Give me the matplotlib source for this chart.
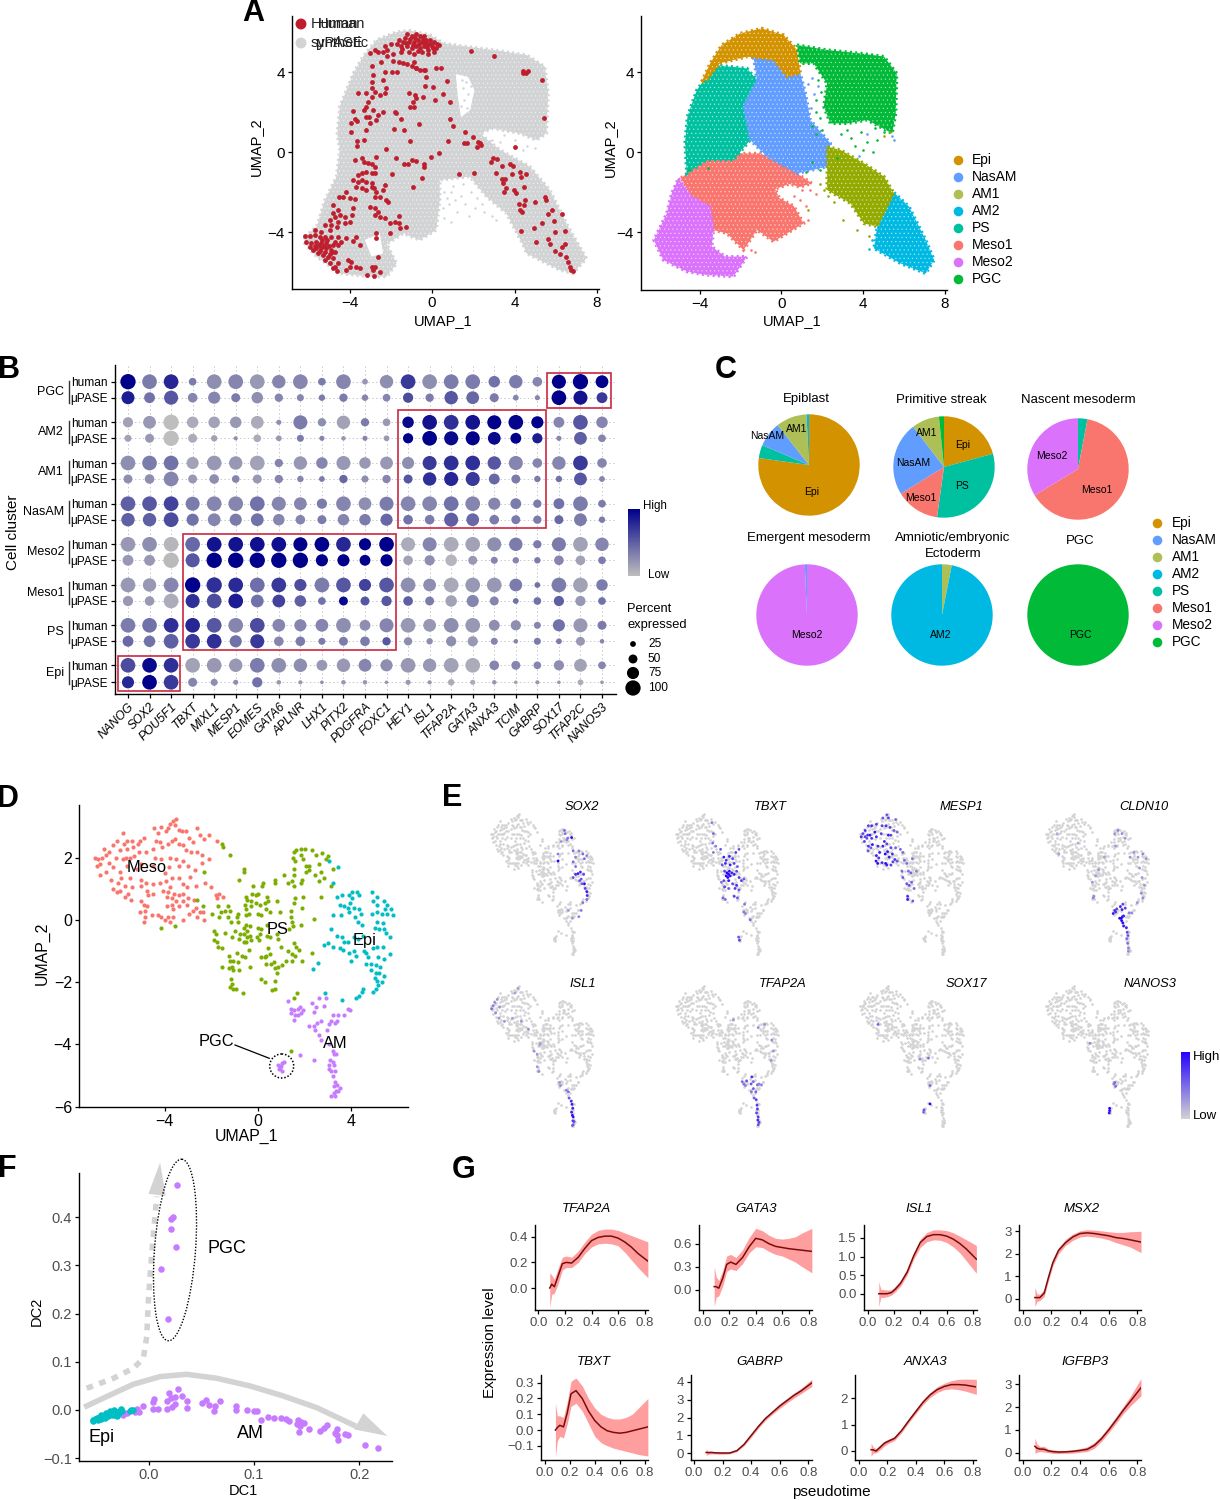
import matplotlib
matplotlib.use("Agg")
import matplotlib.pyplot as plt
import numpy as np
from matplotlib.colors import LinearSegmentedColormap
from matplotlib.patches import Ellipse, Circle, Rectangle

plt.rcParams["font.family"] = ["Liberation Sans", "DejaVu Sans"]
plt.rcParams["hatch.linewidth"] = 0.35

W, H = 1220, 1500

COL = {"Epi": "#D39200", "NasAM": "#619CFF", "AM1": "#93AA00", "AM2": "#00B9E3",
       "PS": "#00C19F", "Meso1": "#F8766D", "Meso2": "#DB72FB", "PGC": "#00BA38"}
PIE_COL = dict(COL, AM1="#AEBF55")
cluster_order = ["Epi", "NasAM", "AM1", "AM2", "PS", "Meso1", "Meso2", "PGC"]

# --- A: outlines of the dense UMAP clouds, plus the cells that can be read singly
all_cells_outline = [(-6.18, -4.23), (-5.6, -3.73), (-5.2, -2.4), (-4.64, -1.23), (-4.48, 0.1), (-4.6, 0.93),
                     (-4.48, 2.27), (-3.83, 3.93), (-3.35, 4.77), (-2.7, 5.6), (-1.73, 6.0), (-1.08, 6.07),
                     (-0.11, 5.85), (0.57, 5.43), (1.67, 5.27), (2.96, 5.1), (4.58, 4.85), (5.47, 4.27),
                     (5.63, 2.93), (5.55, 0.93), (5.06, 0.6), (4.26, 0.93), (2.96, 1.18), (2.31, 0.93),
                     (3.3, 0.1), (4.74, -0.73), (5.71, -1.9), (6.6, -3.73), (7.49, -5.32), (6.84, -6.07),
                     (6.2, -5.9), (4.58, -5.07), (4.42, -4.65), (3.61, -3.07), (2.64, -2.23), (1.83, -1.23),
                     (0.37, -1.4), (0.37, -2.4), (0.2, -3.9), (-0.6, -4.4), (-1.41, -4.07), (-2.2, -4.6),
                     (-1.73, -5.57), (-2.2, -6.23), (-3.03, -6.23), (-4.48, -6.07), (-5.6, -5.23), (-6.18, -4.57)]
all_cells_holes = [[(1.15, 3.9), (1.75, 3.75), (2.05, 3.1), (1.85, 2.1), (1.4, 1.75), (1.25, 2.77)],
                   [(-3.27, -4.4), (-2.54, -4.07), (-2.38, -5.07), (-2.94, -5.23)]]
all_cells_sparse = [(0.6, -2.0), (1.0, -1.7), (1.4, -2.2), (0.8, -2.6), (1.9, -2.0), (2.4, -2.6), (1.2, -3.0),
                    (0.6, -3.3), (2.9, -3.2), (3.1, -3.4), (1.5, -1.6), (2.1, -2.8), (0.9, -3.5), (3.5, 0.85),
                    (4.0, 0.6), (4.6, 0.3), (5.0, 0.2), (3.3, 0.5), (2.9, 0.6), (4.4, 0.1), (1.5, 3.2), (1.4, 2.3),
                    (1.65, 3.5), (1.75, 2.9), (1.55, 2.6), (1.9, 3.3), (1.7, 2.2), (1.45, 3.6), (0.7, -2.3), (1.6, -2.6),
                    (2.2, -2.3), (0.55, -2.8), (1.1, -2.4), (0.9, -2.0), (1.8, -3.2), (2.5, -3.0), (2.75, -1.9)]

human_cells = [(-1.7, 5.4), (-1.6, 5.6), (-1.5, 5.3), (-1.4, 5.5), (-1.3, 5.7), (-1.2, 5.3), (-1.2, 5.9), (-1.1, 5.5),
               (-1.0, 5.8), (-1.0, 5.2), (-0.9, 5.5), (-0.8, 5.9), (-0.8, 5.3), (-0.7, 5.6), (-0.6, 5.8), (-0.6, 5.2),
               (-0.5, 5.5), (-0.4, 5.8), (-0.4, 5.3), (-0.3, 5.6), (-0.2, 5.4), (-0.2, 5.1), (-0.1, 5.6), (0.0, 5.3),
               (0.1, 5.5), (0.2, 5.2), (0.35, 5.35), (-1.5, 5.0), (-1.1, 5.0), (-0.9, 4.9), (-0.5, 5.0), (-0.2, 4.9),
               (0.1, 5.0), (-1.25, 5.45), (-1.05, 5.65), (-0.85, 5.7), (-0.65, 5.4), (-0.45, 5.65), (-0.25, 5.25),
               (-0.05, 5.4), (-1.45, 5.15), (-0.95, 5.35), (-0.7, 5.05), (-0.35, 5.45), (0.05, 5.2), (0.25, 5.4),
               (-2.3, 5.3), (-2.2, 5.1), (-2.4, 5.0), (-2.2, 4.8), (-2.0, 5.4), (-1.9, 4.9), (-1.6, 4.5),
               (-1.4, 4.45), (-2.5, 4.5), (-1.9, 4.55), (-1.2, 4.4), (-1.0, 4.3), (-0.9, 4.5), (-0.8, 4.2), (-0.6, 4.1),
               (-0.4, 4.1), (-2.62, 5.02), (-3.03, 4.93), (-2.94, 4.3), (-2.78, 5.1), (-2.86, 3.85), (-2.94, 3.52),
               (-2.9, 3.18), (-2.27, 4.02), (-1.97, 4.02), (-2.38, 3.6), (-1.68, 3.98), (-0.76, 4.18), (-0.36, 4.1),
               (0.21, 4.18), (0.42, 4.18), (-0.31, 3.73), (-0.36, 3.3), (0.02, 3.27), (0.7, 3.57), (0.53, 2.9),
               (0.13, 2.6), (0.89, 2.48), (-0.44, 2.73), (-0.84, 2.85), (-0.76, 2.68), (-0.92, 2.52), (-1.08, 2.27),
               (-0.89, 2.23), (-1.12, 2.93), (-2.22, 3.18), (-2.27, 2.93), (-2.54, 2.85), (-2.78, 3.02), (-2.94, 2.77),
               (-3.22, 2.97), (-3.59, 2.93), (-3.11, 2.52), (-3.19, 2.27), (-3.32, 2.1), (-3.83, 2.05), (-2.86, 2.1),
               (-2.38, 2.02), (-2.62, 1.85), (-2.7, 1.6), (-3.19, 1.77), (-3.06, 1.77), (-3.75, 1.65), (-3.64, 1.57),
               (-3.96, 1.47), (-3.92, 0.98), (-3.22, 1.1), (-3.03, 1.47), (-1.81, 2.02), (-1.73, 1.93), (-1.49, 1.63),
               (-1.38, 1.1), (-1.86, 1.13), (-0.65, 1.4), (0.86, 1.65), (1.02, 1.32), (1.59, 1.02), (1.99, 0.77),
               (1.54, 0.43), (1.67, 0.47), (0.79, 0.53), (2.23, 0.52), (2.31, 0.43), (2.18, 0.27), (2.39, 0.35),
               (-1.05, 0.57), (-3.64, 0.57), (-3.32, 0.6), (-3.64, 0.3), (-2.22, 0.13), (1.91, 5.05), (2.99, 4.8),
               (4.42, 4.05), (4.55, 3.97), (4.66, 4.05), (4.42, 3.93), (5.32, 3.6), (5.42, 1.68), (4.03, 0.27),
               (-0.03, -0.27), (0.34, -0.07), (-1.73, -0.28), (-1.0, -0.4), (-0.76, -0.45), (-1.17, -0.6), (-1.38, -0.6),
               (-0.4, -0.6), (-0.39, -0.73), (-1.97, -1.12), (-0.49, -1.32), (-0.92, -1.73), (1.31, -1.12), (2.04, -1.07),
               (-3.75, -0.4), (-3.38, -0.32), (-3.32, -0.48), (-3.11, -0.53), (-2.94, -0.6), (-2.78, -0.73), (-2.73, -0.27),
               (-3.59, -1.15), (-3.38, -1.07), (-3.22, -0.98), (-2.94, -1.03), (-2.78, -1.03), (-3.83, -1.4), (-3.59, -1.48),
               (-3.38, -1.4), (-3.19, -1.48), (-2.94, -1.57), (-3.67, -1.73), (-3.38, -1.82), (-3.19, -1.9), (-2.94, -1.73),
               (-2.82, -1.82), (-2.7, -1.98), (-2.54, -2.23), (-2.78, -2.23), (-2.38, -1.9), (-2.22, -2.4), (-2.3, -1.65),
               (-2.14, -2.48), (-4.16, -1.98), (-4.32, -2.23), (-4.53, -2.23), (-4.0, -2.32), (-3.75, -2.35), (-4.56, -2.9),
               (-4.81, -2.65), (-3.83, -2.82), (-3.87, -3.15), (-3.03, -2.73), (-2.78, -2.82), (-2.62, -2.98), (-2.78, -3.15),
               (-2.54, -3.23), (-2.3, -3.32), (-2.06, -3.53), (-1.81, -3.48), (-1.6, -3.2), (-1.62, -3.57), (-1.57, -3.82),
               (-1.25, -3.77), (-2.02, -4.07), (-2.7, -4.07), (-2.7, -4.32), (-2.62, -5.23), (-4.81, -3.07), (-4.94, -3.4),
               (-4.72, -3.23), (-4.48, -3.15), (-4.24, -3.23), (-4.0, -3.48), (-4.24, -3.57), (-4.56, -3.48), (-4.89, -3.65),
               (-5.21, -3.65), (-4.64, -3.73), (-5.7, -3.9), (-5.37, -3.98), (-4.97, -3.9), (-6.18, -4.2), (-5.94, -4.2),
               (-5.7, -4.15), (-5.45, -4.23), (-5.21, -4.27), (-4.89, -4.23), (-4.56, -4.27), (-4.16, -4.32), (-4.4, -4.48),
               (-6.1, -4.48), (-5.86, -4.57), (-5.62, -4.48), (-5.37, -4.53), (-5.13, -4.57), (-4.81, -4.65), (-4.56, -4.65),
               (-5.62, -4.82), (-5.37, -4.82), (-5.13, -4.82), (-4.89, -4.9), (-4.72, -4.98), (-5.54, -5.07), (-5.29, -5.15),
               (-5.05, -5.23), (-4.81, -5.32), (-5.21, -5.4), (-4.97, -5.57), (-4.72, -5.73), (-4.61, -5.93), (-4.81, -5.82),
               (-4.56, -5.57), (-5.94, -4.73), (-5.78, -4.9), (-5.5, -4.65), (-5.25, -4.7), (-5.0, -4.72), (-5.45, -4.95),
               (-5.2, -5.0), (-4.95, -5.08), (-5.7, -4.68), (-5.1, -4.4), (-5.35, -4.38), (-4.7, -4.5), (-4.85, -5.0),
               (-3.67, -4.23), (-3.83, -4.43), (-3.49, -4.65), (-4.08, -5.4),
               (-3.92, -5.48), (-4.19, -5.9), (-4.0, -5.73), (-3.67, -5.73), (-3.48, -5.82), (-3.16, -6.15), (-2.94, -5.73),
               (-2.78, -5.73), (-2.82, -6.2), (-2.54, -5.98), (-2.86, -5.9), (2.85, -0.52), (2.96, -0.28), (3.16, -0.37),
               (3.37, -0.68), (3.12, -1.07), (3.8, -0.6), (3.93, -0.68), (4.26, -1.02), (4.58, -1.1), (3.37, -1.35),
               (3.53, -1.35), (3.45, -1.53), (3.9, -1.1), (4.3, -1.27), (4.45, -1.73), (3.61, -1.82), (3.48, -1.98),
               (3.96, -1.9), (4.05, -2.07), (4.21, -2.6), (4.5, -2.4), (4.45, -2.65), (4.26, -2.9), (4.34, -2.98),
               (4.98, -2.48), (5.47, -2.23), (5.55, -2.4), (5.84, -2.9), (5.63, -3.1), (6.28, -3.1), (5.91, -3.45),
               (5.31, -3.53), (4.3, -3.93), (4.94, -3.82), (5.95, -4.02), (6.44, -3.93), (5.63, -4.35), (5.06, -4.48),
               (5.74, -4.62), (6.44, -4.6), (6.28, -4.77), (5.95, -4.93), (6.2, -5.1), (6.52, -5.27), (6.6, -5.48),
               (6.68, -5.73), (6.73, -5.9), (6.84, -5.93)]

cloud_outlines = {
    "Epi": [(-3.89, 3.52), (-3.48, 4.43), (-2.91, 5.35), (-2.01, 5.93), (-0.95, 6.18), (0.11, 5.85), (0.77, 5.1),
            (0.93, 3.93), (0.28, 3.77), (-0.38, 4.6), (-1.68, 4.77), (-3.0, 4.43), (-3.64, 3.6)],
    "NasAM": [(-1.36, 4.77), (-0.38, 4.6), (0.28, 3.77), (0.93, 3.93), (1.18, 2.93), (1.42, 1.6), (2.4, 0.43),
              (2.24, -0.73), (0.77, -1.07), (-0.7, -0.23), (-1.52, 0.6), (-1.85, 2.27), (-1.19, 3.6)],
    "PS": [(-3.24, 4.35), (-1.68, 4.18), (-1.19, 3.6), (-1.85, 2.27), (-1.52, 0.6), (-2.34, -0.4), (-3.64, -0.4),
           (-4.62, -1.07), (-4.71, 0.43), (-4.59, 1.77), (-4.13, 3.1)],
    "Meso1": [(-4.9, -1.3), (-3.64, -0.32), (-2.34, -0.07), (-1.03, -0.07), (0.28, -0.73), (1.5, -1.57), (0.9, -1.75),
              (0.4, -1.6), (-0.3, -1.85), (-0.1, -2.3), (0.6, -2.7), (1.09, -3.57), (-0.38, -4.48), (-1.19, -3.9),
              (-1.85, -4.9), (-2.66, -4.07), (-3.32, -3.9), (-3.48, -2.73), (-4.38, -2.23)],
    "Meso2": [(-5.03, -1.32), (-4.38, -2.23), (-3.48, -2.73), (-3.32, -3.9), (-3.4, -4.73), (-2.75, -5.23),
              (-1.68, -5.23), (-2.34, -6.23), (-3.64, -6.15), (-4.62, -5.98), (-5.77, -5.4), (-6.23, -4.4),
              (-5.6, -3.07), (-5.36, -2.07)],
    "PGC": [(0.77, 5.35), (2.24, 5.1), (3.87, 4.93), (5.02, 4.77), (5.64, 3.93), (5.59, 1.93), (5.42, 0.93),
            (4.2, 1.6), (3.22, 1.43), (2.4, 1.43), (2.08, 2.27), (2.24, 3.43), (1.58, 4.43), (0.93, 4.43)],
    "AM1": [(2.24, 0.27), (2.89, 0.1), (4.04, -0.57), (5.02, -1.23), (5.51, -2.07), (4.69, -3.73), (4.04, -3.57),
            (3.38, -2.57), (2.24, -1.9), (2.24, -0.73)],
    "AM2": [(5.51, -2.03), (6.24, -2.73), (7.06, -4.4), (7.47, -5.4), (7.06, -6.07), (5.83, -5.57), (4.53, -4.82),
            (4.69, -3.73)],
}
cloud_strays = {
    "PGC": [(2.9, 0.9), (3.4, 0.7), (4.2, 0.5), (4.7, 0.6), (4.0, 0.1), (4.5, 0.0), (3.6, 0.3), (1.7, 0.9), (1.5, 1.3),
            (2.7, -0.3), (1.5, -0.5), (1.2, -1.0), (1.9, -0.9), (1.7, 2.6), (1.8, 3.6), (-3.6, -0.8), (-4.5, -0.9),
            (1.9, 1.7), (2.0, 1.1), (1.7, 2.0), (1.95, 3.0), (4.6, 1.2), (5.0, 1.0), (3.9, 1.0), (3.2, 1.1)],
    "NasAM": [(1.5, 3.7), (1.6, 2.9), (5.4, 0.8), (5.5, 0.6), (4.2, 0.9), (3.8, -0.2), (1.8, 3.3), (1.3, 3.4), (1.45, 2.2)],
    "AM1": [(1.9, -1.6), (2.3, -2.2), (2.6, -2.5), (1.3, -2.9), (3.0, -3.4), (2.1, -1.9), (5.3, 1.0), (5.0, 0.8), (3.7, -3.9), (4.3, -4.2)],
    "Meso1": [(1.4, -1.9), (1.7, -2.1), (1.3, -3.4), (1.2, -2.7), (0.6, -2.2), (1.0, -1.9), (-1.5, -4.9), (-1.3, -5.0), (0.9, -2.4)],
    "AM2": [(4.45, -4.4), (4.3, -4.85)],
}

# --- B: dot plot. Rows run from PGC human (top) to Epi uPASE (bottom)
genes = ["NANOG", "SOX2", "POU5F1", "TBXT", "MIXL1", "MESP1", "EOMES", "GATA6", "APLNR", "LHX1", "PITX2", "PDGFRA",
         "FOXC1", "HEY1", "ISL1", "TFAP2A", "GATA3", "ANXA3", "TCIM", "GABRP", "SOX17", "TFAP2C", "NANOS3"]
dot_clusters = ["PGC", "AM2", "AM1", "NasAM", "Meso2", "Meso1", "PS", "Epi"]
pct_expressed = [
    [100, 95, 95, 40, 95, 95, 95, 85, 95, 40, 95, 25, 85, 95, 95, 95, 95, 70, 85, 55, 90, 100, 80],
    [82, 65, 90, 55, 75, 50, 70, 45, 35, 30, 45, 30, 40, 60, 45, 85, 80, 50, 25, 20, 95, 90, 65],
    [60, 80, 100, 70, 70, 70, 80, 20, 90, 45, 85, 45, 40, 70, 95, 95, 95, 90, 95, 75, 65, 95, 70],
    [35, 50, 100, 50, 30, 12, 40, 25, 35, 20, 15, 20, 25, 60, 95, 90, 90, 80, 65, 60, 20, 80, 40],
    [95, 95, 95, 75, 95, 85, 95, 45, 85, 70, 90, 70, 80, 75, 90, 95, 95, 85, 90, 55, 85, 95, 55],
    [50, 55, 95, 50, 55, 40, 50, 45, 30, 25, 45, 35, 45, 50, 85, 90, 90, 65, 50, 30, 30, 80, 25],
    [95, 95, 95, 90, 95, 95, 95, 90, 80, 60, 95, 80, 90, 95, 95, 95, 95, 75, 65, 45, 65, 95, 40],
    [85, 85, 95, 75, 80, 75, 80, 70, 55, 50, 70, 70, 75, 55, 55, 90, 80, 55, 50, 45, 50, 80, 30],
    [95, 95, 95, 95, 95, 95, 95, 95, 90, 95, 95, 75, 95, 90, 90, 95, 95, 90, 85, 45, 90, 95, 85],
    [65, 65, 100, 90, 100, 100, 100, 100, 100, 75, 75, 65, 75, 55, 60, 70, 50, 35, 30, 30, 55, 55, 40],
    [95, 85, 95, 100, 100, 95, 95, 95, 75, 95, 95, 75, 95, 95, 80, 95, 95, 95, 80, 25, 95, 95, 70],
    [60, 55, 95, 90, 95, 95, 80, 80, 70, 40, 50, 50, 60, 55, 50, 70, 75, 50, 25, 40, 60, 60, 40],
    [95, 95, 95, 95, 95, 95, 95, 80, 75, 80, 95, 65, 90, 95, 80, 95, 95, 65, 60, 35, 75, 90, 50],
    [65, 70, 95, 95, 95, 75, 90, 55, 55, 35, 50, 55, 45, 45, 30, 60, 60, 35, 15, 35, 25, 50, 15],
    [95, 95, 95, 95, 95, 85, 95, 95, 85, 65, 85, 80, 75, 95, 85, 95, 95, 55, 50, 40, 60, 80, 40],
    [75, 95, 95, 50, 35, 20, 60, 15, 12, 8, 15, 15, 8, 20, 12, 30, 20, 15, 8, 12, 8, 25, 8],
]
avg_expression = [
    [1.0, .35, .8, .35, .25, .3, .2, .3, .3, .35, .3, .2, .25, .7, .25, .35, .35, .4, .35, .3, 1.0, 1.0, 1.0],
    [.85, .4, .55, .3, .3, .35, .25, .3, .3, .35, .35, .3, .3, .6, .35, .55, .45, .35, .3, .3, 1.0, .9, .7],
    [.15, .2, 0, .1, .15, .2, .1, .25, .35, .25, .15, .35, .2, .95, .9, .75, .9, 1.0, .98, 1.0, .3, .55, .3],
    [.15, .2, 0, .1, .15, .25, .1, .2, .35, .3, .2, .3, .2, 1.0, 1.0, .95, 1.0, .95, 1.0, .85, .3, .5, .3],
    [.25, .35, .4, .15, .2, .2, .15, .3, .2, .3, .2, .2, .2, .25, .7, .75, .75, .55, .3, .3, .3, .7, .3],
    [.25, .25, .3, .2, .25, .3, .2, .3, .3, .35, .45, .25, .3, .55, .75, .8, .7, .45, .35, .35, .4, .55, .3],
    [.5, .55, .65, .35, .3, .3, .4, .3, .3, .35, .3, .25, .35, .3, .3, .4, .3, .3, .35, .35, .4, .35, .35],
    [.5, .5, .6, .4, .3, .35, .4, .3, .3, .35, .3, .35, .45, .4, .35, .5, .45, .35, .35, .35, .45, .35, .35],
    [.2, .25, .05, .45, .9, .9, .92, .92, 1.0, 1.0, .8, 1.0, 1.0, .1, .3, .1, .15, .25, .35, .35, .35, .15, .3],
    [.2, .2, .02, .55, 1.0, 1.0, 1.0, 1.0, 1.0, 1.0, 1.0, 1.0, 1.0, .15, .25, .05, .2, .3, .3, .35, .3, .15, .35],
    [.2, .2, .3, 1.0, .75, .78, .42, .7, .6, .35, .55, .65, .55, .25, .25, .12, .2, .2, .35, .4, .35, .15, .35],
    [.2, .2, .1, .75, .6, .85, .4, .65, .5, .4, .95, .55, .55, .5, .35, .15, .3, .3, .4, .4, .5, .2, .4],
    [.35, .4, .75, .8, .55, .3, .6, .3, .3, .3, .25, .25, .3, .2, .2, .25, .2, .25, .25, .3, .4, .2, .35],
    [.45, .4, .5, .7, .75, .4, .7, .3, .35, .35, .35, .35, .55, .25, .25, .25, .2, .3, .3, .35, .35, .2, .3],
    [.6, .95, .75, .15, .2, .2, .35, .25, .25, .2, .2, .3, .25, .2, .2, .15, .1, .3, .3, .3, .25, .15, .3],
    [.8, 1.0, .7, .3, .25, .25, .4, .2, .2, .25, .2, .2, .2, .2, .2, .1, .1, .2, .15, .2, .2, .1, .2],
]
row_names = ["human", "μPASE"] * 8
row_pos = [381.7, 397.7, 422.3, 438.3, 463, 479, 503.7, 519.7, 544.3, 560.3, 585, 601, 625.3, 641.3, 665.3, 682.3]
cluster_label_pos = [391.7, 432, 472, 512, 552, 593, 632, 673]
legend_pcts = [25, 50, 75, 100]

# --- C: pie shares, clockwise from 12 o'clock
pies = [
    ("Epiblast", ["Epi", "PS", "NasAM", "AM1", "AM2"], [77.2, 4.2, 8.0, 9.8, 0.8]),
    ("Primitive streak", ["Epi", "PS", "Meso1", "NasAM", "AM1", "PGC"], [20.8, 31.4, 14.0, 23.4, 8.8, 1.6]),
    ("Nascent mesoderm", ["PS", "Meso1", "Meso2"], [3.0, 63.3, 33.7]),
    ("Emergent mesoderm", ["Meso2", "NasAM"], [99.3, 0.7]),
    ("Amniotic/embryonic\nEctoderm", ["AM1", "AM2"], [3.1, 96.9]),
    ("PGC", ["PGC"], [100.0]),
]

# --- D: human cells on UMAP
meso_cells = [(-3.65, 3.2), (-3.5, 3.25), (-3.75, 3.1), (-3.55, 3.05), (-3.85, 2.95), (-4.15, 3.0), (-4.45, 2.95), (-4.3, 2.8),
              (-3.95, 2.85), (-3.4, 2.9), (-3.25, 2.85), (-3.1, 2.85), (-2.6, 2.95), (-2.5, 2.75), (-2.1, 2.75), (-2.3, 2.6),
              (-5.8, 2.8), (-4.9, 2.65), (-5.05, 2.55), (-5.15, 2.45), (-5.4, 2.55), (-5.6, 2.55), (-5.75, 2.45), (-6.05, 2.55),
              (-6.2, 2.4), (-6.4, 2.2), (-6.6, 2.3), (-6.5, 2.1), (-4.35, 2.55), (-4.2, 2.5), (-4.1, 2.35), (-3.85, 2.45),
              (-3.7, 2.55), (-3.55, 2.6), (-3.4, 2.45), (-3.2, 2.4), (-3.1, 2.25), (-2.95, 2.65), (-2.8, 2.5), (-2.85, 2.2),
              (-2.6, 2.2), (-2.4, 2.1), (-1.75, 2.55), (-5.9, 2.25), (-5.6, 2.3), (-5.35, 2.35), (-5.1, 2.2), (-4.8, 2.2),
              (-4.5, 2.3), (-7.0, 2.0), (-6.85, 1.95), (-6.7, 2.0), (-6.9, 1.75), (-6.75, 1.8), (-6.4, 1.85), (-6.1, 2.0),
              (-5.8, 1.95), (-5.65, 2.0), (-5.5, 2.0), (-5.3, 2.05), (-4.4, 2.0), (-4.15, 1.95), (-3.75, 2.0), (-3.5, 1.95),
              (-3.2, 1.9), (-3.0, 1.75), (-2.7, 1.6), (-2.4, 1.85), (-2.1, 1.95), (-2.9, 1.4), (-3.4, 1.75), (-3.8, 1.7),
              (-4.0, 1.5), (-4.5, 1.75), (-5.0, 1.8), (-5.2, 1.65), (-5.6, 1.75), (-5.9, 1.55), (-6.2, 1.7), (-6.5, 1.55),
              (-6.75, 1.45), (-6.3, 1.3), (-6.0, 1.2), (-5.85, 1.35), (-5.5, 1.35), (-5.7, 1.1), (-5.4, 1.05), (-5.0, 1.3),
              (-4.8, 1.2), (-4.5, 1.15), (-4.2, 1.2), (-3.95, 1.25), (-3.7, 1.35), (-3.4, 1.35), (-3.2, 1.15), (-3.05, 1.05),
              (-2.65, 1.1), (-2.25, 1.2), (-2.0, 1.05), (-5.0, 1.1), (-3.75, 1.05), (-4.05, 0.95), (-3.85, 0.9), (-6.2, 1.0),
              (-6.05, 0.9), (-5.9, 0.95), (-5.55, 0.85), (-5.7, 0.75), (-5.45, 0.65), (-5.0, 0.6), (-4.9, 0.5), (-4.75, 0.45),
              (-4.75, 0.95), (-4.5, 0.85), (-4.7, 0.8), (-3.9, 0.75), (-3.7, 0.7), (-3.6, 0.85), (-3.4, 0.8), (-3.2, 0.85),
              (-3.0, 0.7), (-2.75, 0.65), (-3.5, 0.6), (-3.2, 0.6), (-3.9, 0.45), (-3.7, 0.5), (-3.65, 0.35), (-3.4, 0.45),
              (-3.05, 0.5), (-2.8, 0.3), (-2.65, 0.4), (-1.65, 0.85), (-1.8, 0.8), (-1.75, 0.7), (-1.5, 0.75), (-5.05, 0.25),
              (-4.85, 0.3), (-4.85, 0.1), (-4.9, -0.05), (-4.55, 0.15), (-4.3, 0.15), (-4.15, 0.1), (-4.0, 0.0), (-3.85, 0.1),
              (-3.65, 0.1), (-3.75, -0.05), (-3.2, 0.0), (-2.95, 0.2), (-2.5, 0.25), (-2.6, 0.1), (-2.3, 0.0), (-2.35, 0.25)]
ps_cells = [(-4.15, -0.25), (-3.55, -0.2), (-2.3, 1.55), (-1.55, 2.45), (-1.5, 2.35), (-1.2, 2.1), (-0.6, 1.65), (-0.6, 1.55),
            (-0.8, 1.3), (-2.6, 0.65), (1.55, 2.2), (1.65, 2.25), (1.85, 2.3), (2.0, 2.3), (1.5, 2.0), (1.6, 1.9), (1.85, 2.1),
            (1.95, 1.95), (2.05, 1.75), (2.2, 1.75), (2.05, 1.55), (2.2, 1.6), (1.55, 1.65), (1.55, 1.45), (2.3, 2.25), (2.5, 2.1),
            (2.6, 1.8), (2.45, 1.45), (2.7, 1.55), (2.75, 2.15), (2.9, 1.95), (3.0, 2.05), (2.85, 1.35), (3.2, 1.65), (3.15, 1.1),
            (2.6, 1.25), (1.1, 1.45), (0.75, 1.3), (1.45, 1.25), (1.3, 1.2), (1.9, 1.3), (1.85, 1.2), (1.55, 1.1), (0.75, 1.2),
            (0.2, 1.2), (0.18, 1.1), (-0.2, 1.1), (-0.25, 0.85), (0.0, 0.85), (-0.1, 0.8), (-0.5, 0.75), (-0.45, 0.65), (0.4, 0.75),
            (0.45, 0.6), (0.3, 0.55), (0.1, 0.5), (-0.1, 0.55), (-0.3, 0.6), (-0.55, 0.5), (-0.3, 0.45), (-0.5, 0.35), (0.35, 0.35),
            (0.5, 0.25), (0.8, 0.6), (1.6, 0.7), (1.95, 0.75), (2.7, 0.75), (1.55, 0.55), (1.9, 0.4), (1.4, 0.3), (-0.4, 0.2),
            (0.0, 0.2), (0.15, 0.15), (-0.85, 0.2), (-1.3, 0.45), (-1.4, 0.3), (-1.7, 0.45), (-1.2, 0.3), (-0.9, 0.1), (-0.85, -0.05),
            (-0.5, 0.15), (-1.6, 0.25), (-2.35, 0.45), (-1.95, 0.2), (-1.65, 0.1), (-1.3, 0.1), (-1.15, -0.05), (0.95, 0.25), (1.4, 0.1),
            (1.45, -0.05), (2.4, 0.05), (1.85, -0.15), (1.5, -0.2), (1.35, -0.3), (0.4, -0.15), (-0.5, -0.15), (-0.6, -0.25), (-0.45, -0.35),
            (-0.35, -0.2), (0.0, -0.25), (0.15, -0.3), (-0.75, -0.45), (-0.6, -0.45), (-0.45, -0.55), (-0.35, -0.5), (0.1, -0.45), (-0.6, -0.7),
            (-0.5, -0.7), (-0.3, -0.65), (0.05, -0.65), (-0.05, -0.55), (0.4, -0.5), (0.5, -0.55), (0.85, -0.6), (0.8, -0.45), (1.0, -0.85),
            (1.55, -0.75), (1.65, -0.85), (1.75, -0.95), (1.6, -1.15), (1.45, -1.1), (1.3, -1.0), (1.45, -1.3), (1.9, -1.3), (2.3, -1.05),
            (-1.9, -0.35), (-1.8, -0.45), (-1.4, -0.4), (-1.75, -0.7), (-1.9, -0.65), (-1.7, -0.85), (-1.55, -0.9), (-1.0, -0.35), (-1.1, -0.55),
            (-0.8, -0.6), (-1.25, -1.15), (-1.2, -1.3), (-1.05, -1.3), (-0.9, -1.05), (-0.7, -1.15), (-0.85, -1.35), (-0.55, -1.2), (-0.4, -0.95),
            (-0.35, -1.5), (0.15, -1.2), (0.35, -1.15), (0.5, -1.1), (0.45, -0.9), (0.3, -1.2), (0.55, -1.4), (0.7, -1.35), (0.85, -1.5),
            (1.05, -1.45), (1.2, -1.3), (-1.55, -1.5), (-1.25, -1.55), (-1.1, -1.5), (-1.05, -1.6), (-0.8, -1.6), (0.35, -1.4), (0.75, -1.55),
            (0.8, -1.7), (0.15, -1.9), (0.3, -2.0), (0.75, -1.95), (-1.15, -1.9), (-1.1, -2.05), (-1.2, -2.15), (-1.05, -2.2), (-0.95, -2.2),
            (-0.65, -2.35), (0.6, -2.25), (0.75, -2.2), (1.66, -2.36), (1.56, -2.52), (1.42, -4.2)]
epi_cells = [(3.4, 0.75), (3.6, 0.8), (3.9, 0.8), (4.05, 0.9), (4.25, 0.9), (4.35, 0.8), (4.05, 0.7), (3.95, 0.55), (3.5, 0.5),
             (3.7, 0.45), (3.85, 0.4), (4.1, 0.4), (4.35, 0.35), (4.9, 0.9), (5.1, 0.75), (4.95, 0.6), (5.1, 0.5), (5.4, 0.6),
             (5.55, 0.5), (5.45, 0.35), (5.3, 0.2), (5.7, 0.35), (5.55, 0.2), (5.8, 0.15), (5.1, 0.25), (4.9, 0.2), (3.2, 0.15),
             (3.55, 0.15), (3.9, 0.25), (4.15, 0.1), (4.4, 0.2), (4.3, -0.05), (4.45, -0.15), (5.1, -0.05), (5.35, -0.1), (5.0, -0.25),
             (5.2, -0.3), (5.4, -0.3), (5.5, -0.4), (5.65, -0.55), (3.15, -0.3), (3.4, -0.5), (3.6, -0.55), (3.7, -0.7), (3.85, -0.7),
             (4.1, -0.55), (4.3, -0.6), (4.5, -0.5), (2.85, -0.8), (3.0, -0.75), (3.2, -0.85), (3.5, -0.9), (3.65, -0.95), (3.9, -1.05),
             (4.1, -1.0), (4.2, -1.15), (4.0, -1.3), (4.55, -1.0), (4.65, -1.05), (4.7, -1.2), (4.95, -0.9), (5.1, -0.85), (5.35, -0.85),
             (5.65, -1.1), (5.15, -1.2), (5.4, -1.25), (4.65, -1.4), (4.85, -1.4), (5.05, -1.45), (5.25, -1.5), (4.85, -1.6), (5.05, -1.7),
             (5.2, -1.7), (5.4, -1.8), (5.0, -1.85), (5.1, -1.95), (5.3, -2.0), (5.15, -2.1), (5.05, -2.2), (4.95, -2.3), (4.5, -2.2),
             (4.45, -2.3), (4.35, -2.45), (4.2, -2.5), (3.59, -2.57), (2.87, -2.36), (2.37, -1.58), (2.56, -1.37), (3.05, 1.9), (3.45, 1.7),
             (3.2, 1.2)]
am_cells = [(1.3, -2.6), (1.4, -2.85), (1.4, -3.0), (1.6, -3.05), (1.55, -2.9), (1.7, -2.85), (1.8, -2.8), (1.85, -3.0), (1.7, -3.05),
            (1.55, -3.2), (1.95, -2.9), (2.3, -2.65), (2.6, -2.5), (2.9, -2.5), (2.4, -2.95), (2.5, -2.8), (2.85, -2.75), (2.2, -3.4),
            (2.4, -3.4), (2.55, -3.3), (2.45, -3.55), (2.7, -3.25), (2.6, -3.7), (2.7, -3.85), (3.05, -3.35), (3.15, -3.25), (3.3, -3.3),
            (3.4, -3.25), (3.45, -3.05), (3.2, -3.05), (3.7, -3.05), (3.95, -2.9), (3.85, -2.85), (2.95, -3.55), (3.05, -4.0), (3.2, -4.2),
            (3.25, -4.3), (3.35, -4.3), (3.1, -4.5), (3.2, -4.55), (3.05, -4.65), (3.25, -4.65), (3.05, -4.8), (3.15, -4.85), (3.3, -4.85),
            (3.2, -5.0), (3.3, -5.2), (3.25, -5.35), (3.4, -5.3), (3.5, -5.4), (3.45, -5.5), (3.35, -5.5), (3.25, -5.55), (3.15, -5.65),
            (3.3, -5.65), (1.8, -4.35), (2.4, -4.5), (0.85, -4.65), (1.05, -4.6), (1.0, -4.7), (0.9, -4.8), (1.05, -4.85), (0.95, -4.75),
            (1.1, -4.55)]

# --- E: cells with visible expression, (UMAP_1, UMAP_2, level)
expr_genes = ["SOX2", "TBXT", "MESP1", "CLDN10", "ISL1", "TFAP2A", "SOX17", "NANOS3"]
expr_cells = {
    "SOX2": [(2.2, 2.2, .5), (2.3, 2.0, .5), (2.6, 1.7, .5), (3.1, 1.75, 1.0), (2.5, 1.6, .4), (1.8, 1.5, .3), (1.4, .25, 1.0),
             (1.4, .7, .4), (3.3, .9, .5), (3.6, .5, .4), (4.0, .9, .4), (4.5, .7, .5), (4.7, .4, .5), (5.0, .6, .4), (3.3, .2, .5),
             (3.6, -.1, .5), (3.9, -.55, .9), (4.2, -.45, .8), (3.6, -.6, .8), (3.3, -.8, .6), (4.6, -.6, .7), (4.3, -.9, .6),
             (4.1, -1.0, .6), (4.7, -1.2, .95), (4.4, -1.2, .6), (4.8, -1.5, .7), (5.0, -1.7, .9), (5.05, -1.95, .8), (5.0, -2.2, .5),
             (4.5, -2.4, .45), (4.3, -2.9, .45), (4.0, -3.3, .4), (2.7, -2.9, .3), (3.2, -3.4, .3)],
    "TBXT": [(-2.5, 2.7, .4), (-2.3, 2.0, .5), (-2.4, 1.4, .5), (-2.0, 1.2, .4), (-1.4, 1.0, .6), (-2.3, .8, .45), (-1.0, .5, .9),
             (-.7, .3, .8), (-.3, .55, .85), (.1, .4, .7), (.5, .8, .7), (.9, 1.0, .6), (-1.2, .0, .6), (-.8, .1, .8), (-.2, .0, .85),
             (.3, .1, .7), (.7, -.1, .6), (-.9, -.4, .7), (-.6, -.5, 1.0), (-.4, -.6, 1.0), (-.5, -.8, 1.0), (-.3, -.4, .95), (-.2, -.7, .9),
             (-.7, -.7, .95), (-.4, -1.0, .9), (0, -.5, .85), (.3, -.6, .9), (.6, -.4, .7), (.9, -.8, .75), (1.2, -1.0, .7), (1.5, -.9, .6),
             (-1.3, -1.1, .5), (-1.0, -1.0, .65), (-.9, -1.4, .7), (-.4, -1.5, .6), (.1, -1.2, .7), (.4, -1.5, .75), (.6, -1.3, .8),
             (.9, -1.6, .6), (-1.1, -2.1, .55), (-.8, -2.2, .5), (.3, -2.0, .7), (.7, -2.1, .6), (1.6, -2.5, .45), (1.5, -3.0, .4),
             (1.7, -3.1, .4), (2.3, -3.5, .5), (.85, -4.6, .6), (.95, -4.8, .7)],
    "MESP1": [(-3.7, 3.2, .6), (-3.5, 3.0, .7), (-4.2, 3.0, .6), (-2.6, 2.9, .5), (-5.0, 2.6, .7), (-5.6, 2.5, .8), (-6.0, 2.5, .7),
              (-6.4, 2.2, .8), (-4.3, 2.5, .7), (-3.8, 2.5, .8), (-3.3, 2.4, .7), (-2.8, 2.2, .6), (-2.4, 2.1, .5), (-5.2, 2.1, .9),
              (-5.8, 1.9, .9), (-6.1, 1.9, .8), (-6.7, 2.0, .7), (-6.9, 1.8, .8), (-6.4, 1.8, .7), (-4.4, 2.0, .7), (-3.5, 1.9, .9),
              (-3.2, 1.9, .7), (-4.0, 1.5, .8), (-5.0, 1.8, .8), (-5.6, 1.7, .75), (-6.2, 1.7, .6), (-6.5, 1.5, .7), (-6.0, 1.2, .75),
              (-5.5, 1.3, .9), (-4.8, 1.2, .8), (-4.2, 1.2, .85), (-3.7, 1.35, .7), (-3.2, 1.1, .7), (-2.6, 1.1, .55), (-2.0, 1.0, .5),
              (-5.7, 1.1, .6), (-6.05, .9, .6), (-5.0, .6, .9), (-4.7, .45, .75), (-4.6, .8, .85), (-3.9, .7, 1.0), (-3.6, .85, .9),
              (-3.4, .5, .9), (-3.0, .7, .8), (-2.7, .35, .75), (-5.05, .25, .9), (-4.85, .1, .95), (-4.3, .15, .8), (-3.85, .1, .95),
              (-3.7, .0, .85), (-3.2, 0, .7), (-2.95, .2, .7), (-2.4, .25, .6), (-1.7, .8, .5), (-1.8, -.4, .5), (-1.7, -.8, .6),
              (-1.2, -1.2, .6), (-1.1, -2.0, .8), (-1.1, -2.2, .9), (-.7, -.5, .55), (-.6, -1.1, .55), (-.3, -1.5, .5), (-1.0, -.4, .5),
              (-1.5, .3, .5), (-.5, .4, .45), (-1.2, .1, .5), (-.9, -1.3, .65), (-.45, -2.3, .6), (.0, -.4, .4)],
    "CLDN10": [(1.6, -2.9, .8), (1.4, -3.1, .9), (1.7, -3.0, .8), (1.85, -2.8, .7), (2.3, -2.65, .85), (2.6, -2.5, .7), (2.5, -2.85, .85),
               (2.2, -3.4, 1.0), (2.4, -3.4, 1.0), (2.55, -3.3, .9), (2.45, -3.55, 1.0), (2.6, -3.7, .95), (2.9, -2.75, .7), (2.7, -3.25, .85),
               (2.7, -3.9, .9), (3.05, -4.0, .85), (3.15, -4.3, .7), (3.25, -4.5, .6), (3.1, -4.7, .5), (3.2, -5.0, .5), (3.3, -5.3, .4),
               (3.3, -5.5, .35), (3.4, -3.05, .4), (3.7, -3.05, .35), (2, 2.2, .4), (2.5, 2.0, .35), (2.9, 1.7, .3), (1.6, 2.0, .3),
               (1.7, 1.2, .3), (3.5, .5, .3), (4.0, .8, .3), (4.5, .5, .3), (5.1, .7, .35), (5.5, .4, .3), (4.7, -.2, .3), (5.0, -.8, .3),
               (5.3, -1.3, .3), (4.9, -1.8, .35), (5.1, -2.1, .35), (4.4, -2.4, .3), (-.4, -.3, .3), (-1.2, -1.1, .3), (-.8, -.7, .3),
               (-1.1, -2.1, .4), (-1.0, -2.0, .35), (.3, .5, .25), (-5.4, .7, .25), (-3, 1.4, .2), (-5.6, 2.0, .2)],
    "ISL1": [(-6.9, 1.8, .5), (-6.7, 2.0, .4), (-6.5, 2.2, .35), (-6.2, 2.4, .3), (-6.4, 1.55, .35), (-6.0, 1.2, .3), (-5.9, 1.9, .3),
             (-5.3, 1.0, .3), (-4.0, 2.8, .25), (-3.6, 3.1, .25), (-4.3, 1.2, .25), (-3.2, 1.0, .3), (-2.3, .5, .35), (-.9, -.5, .25),
             (-1.2, -1.1, .3), (-.8, -.4, .25), (-1.6, -.9, .3), (-1.2, -1.9, .3), (-1.0, -2.2, .35), (1.6, -2.9, .3), (1.7, -3.1, .35),
             (2.45, -3.4, .4), (2.7, -3.5, .5), (2.8, -3.9, .6), (3.05, -4.1, .8), (3.15, -4.3, .9), (3.25, -4.55, .85), (3.1, -4.8, .85),
             (3.2, -5.0, .95), (3.3, -5.1, .9), (3.25, -5.35, .7), (3.4, -5.4, .7), (3.3, -5.6, .6), (3.2, -5.65, .55)],
    "TFAP2A": [(.2, 1.1, .3), (3.3, .6, .35), (4.1, .8, .3), (5.0, -.2, .35), (5.2, -.9, .3), (4.9, -1.5, .3), (1.3, -2.85, .5),
               (1.5, -3.0, .45), (1.7, -3.1, .4), (1.85, -2.8, .6), (2.5, -2.55, .8), (2.4, -3.0, .6), (2.7, -2.85, .5), (2.7, -3.3, .55),
               (2.45, -3.5, .45), (3.2, -3.05, .5), (3.0, -3.5, .55), (3.4, -3.0, .4), (3.7, -3.05, .4), (2.8, -3.9, .55), (3.05, -4.0, .7),
               (3.15, -4.35, .75), (3.2, -4.6, .7), (3.1, -4.85, .7), (3.3, -5.1, .75), (3.25, -5.3, .8), (3.4, -5.45, .7), (3.3, -5.6, .65)],
    "SOX17": [(-4.8, .8, .55), (.45, -1.4, .35), (1.5, -1.35, .5), (1.7, -3.1, .5), (1.7, -4.27, 1.0), (.95, -4.65, .6), (.9, -4.8, .55)],
    "NANOS3": [(-1.5, -.4, .35), (1.6, -2.9, .5), (1.5, -3.0, .45), (1.7, -3.15, .5), (.95, -4.55, 1.0), (.95, -4.7, .95), (.9, -4.85, .9)],
}

# --- F: diffusion map
dc_am = [(.0270, .4670), (.0234, .4010), (.0210, .3960), (.0212, .3755), (.0256, .3375), (.0114, .2920), (.0184, .1890),
         (.028, .043), (.0196, .036), (.025, .026), (.032, .029), (.036, .019), (.017, .019), (.021, .024), (.005, .022),
         (.0044, .016), (.0367, .005), (.025, .012), (.022, .007), (.017, .001), (.009, .003), (.0044, .001), (-.0057, .008),
         (-.0108, .003), (-.009, -.005), (-.013, -.005), (.054, .021), (.051, .014), (.0576, .010), (.063, .008), (.062, -.003),
         (.068, .019), (.083, .008), (.083, 0), (.0937, -.001), (.1, -.003), (.1025, -.003), (.107, -.021), (.113, -.014),
         (.119, -.017), (.126, -.017), (.13, -.019), (.1335, -.022), (.1415, -.021), (.1405, -.029), (.145, -.024), (.147, -.026),
         (.1437, -.033), (.143, -.046), (.1525, -.039), (.169, -.032), (.1665, -.037), (.163, -.043), (.179, -.04), (.177, -.048),
         (.179, -.052), (.18, -.0615), (.186, -.05), (.189, -.0525), (.205, -.072), (.218, -.0795), (-.021, -.007), (-.024, -.01)]
dc_epi = [(-.0530, -.0230), (-.0525, -.0215), (-.0515, -.0210), (-.0510, -.0190), (-.0500, -.0195), (-.0495, -.0175), (-.0485, -.0180),
          (-.0480, -.0160), (-.0470, -.0165), (-.0465, -.0145), (-.0455, -.0150), (-.0450, -.0130), (-.0440, -.0135), (-.0435, -.0115),
          (-.0425, -.0120), (-.0420, -.0100), (-.0410, -.0110), (-.0405, -.0085), (-.0395, -.0095), (-.0390, -.0075), (-.0380, -.0085),
          (-.0375, -.0060), (-.0365, -.0075), (-.0355, -.0050), (-.0345, -.0065), (-.0335, -.0040), (-.0320, -.0060), (-.0310, -.0035),
          (-.0300, -.0090), (-.0295, -.0050), (-.0285, -.0070), (-.0270, -.0030), (-.0260, .0030), (-.0250, -.0020), (-.0175, -.0030),
          (-.0165, .0000), (-.0146, -.0010), (-.0480, -.0210), (-.0450, -.0190), (-.0420, -.0160), (-.0385, -.0130), (-.0350, -.0110),
          (-.0320, -.0100), (-.0450, -.0095), (-.0410, -.0060), (-.0370, -.0030), (-.0330, -.0010), (-.0300, -.0125)]
trunk_arrow = [(-.0589, .0083), (-.0367, .0311), (-.0146, .0533), (.0108, .0692), (.0361, .074), (.0646, .0657), (.0962, .0498),
               (.1278, .029), (.1595, .0048), (.1943, -.0311)]
trunk_head = [(.2266, -.054), (.2038, -.0069), (.1949, -.0401)]
branch_arrow = [(-.0589, .045), (-.0335, .0657), (-.0146, .0864), (-.0051, .1072), (-.0019, .1521), (-.0003, .2282), (.0019, .2974),
                (.0051, .3804), (.0076, .4426)]
branch_head = [(.0108, .5131), (-.0003, .4481), (.0161, .444)]

# --- G: fitted expression along pseudotime
pseudotime = [.085, .10, .12, .15, .18, .21, .25, .30, .35, .40, .45, .50, .55, .60, .65, .70, .75, .825]
tfap2a_fit = [.0, .03, .01, .10, .19, .20, .195, .24, .31, .37, .395, .405, .405, .39, .36, .32, .27, .21]
tfap2a_lo = [-.15, -.05, -.04, .04, .14, .16, .16, .20, .27, .32, .345, .35, .345, .33, .28, .22, .16, .08]
tfap2a_hi = [.12, .10, .07, .16, .24, .25, .24, .29, .36, .42, .45, .46, .46, .45, .43, .41, .39, .36]
gata3_fit = [.04, .04, .02, .15, .33, .36, .33, .42, .56, .67, .65, .60, .565, .55, .535, .525, .515, .50]
gata3_lo = [-.22, -.1, -.08, .05, .24, .27, .25, .34, .48, .56, .55, .50, .46, .44, .40, .36, .30, .22]
gata3_hi = [.30, .17, .12, .25, .44, .46, .42, .52, .68, .80, .77, .71, .67, .66, .67, .69, .74, .80]
isl1_fit = [0, 0, 0, 0, .03, .12, .28, .58, 1.02, 1.38, 1.54, 1.59, 1.59, 1.55, 1.47, 1.35, 1.2, .93]
isl1_lo = [-.35, -.1, -.1, -.08, -.04, .05, .2, .5, .93, 1.25, 1.4, 1.45, 1.44, 1.38, 1.26, 1.1, .88, .55]
isl1_hi = [.33, .12, .11, .1, .1, .2, .36, .66, 1.1, 1.47, 1.65, 1.72, 1.72, 1.7, 1.64, 1.55, 1.45, 1.3]
msx2_fit = [.05, .05, .05, .25, .95, 1.6, 2.15, 2.5, 2.75, 2.9, 2.93, 2.9, 2.85, 2.8, 2.72, 2.68, 2.62, 2.52]
msx2_lo = [-.35, -.12, -.08, .1, .8, 1.45, 2.0, 2.38, 2.6, 2.75, 2.78, 2.75, 2.7, 2.62, 2.5, 2.4, 2.3, 2.05]
msx2_hi = [.5, .22, .2, .4, 1.1, 1.75, 2.27, 2.65, 2.88, 3.02, 3.07, 3.05, 3.02, 2.98, 2.95, 2.95, 2.98, 3.0]
tbxt_fit = [0, .015, .03, .02, .11, .23, .25, .20, .12, .06, .02, -.005, -.015, -.02, -.015, -.005, .005, .02]
tbxt_lo = [-.17, -.07, -.04, -.05, .04, .15, .17, .12, .04, -.04, -.08, -.10, -.115, -.125, -.135, -.145, -.155, -.165]
tbxt_hi = [.17, .09, .09, .08, .18, .31, .33, .28, .2, .14, .1, .08, .07, .07, .08, .1, .14, .2]
gabrp_fit = [.05, .04, .05, .03, .02, .02, .02, .15, .5, 1.0, 1.5, 1.95, 2.3, 2.65, 2.95, 3.25, 3.5, 3.95]
gabrp_lo = [-.12, -.05, -.03, -.04, -.05, -.05, -.03, .1, .42, .9, 1.4, 1.85, 2.2, 2.52, 2.82, 3.1, 3.35, 3.75]
gabrp_hi = [.25, .12, .12, .1, .08, .08, .08, .22, .58, 1.08, 1.6, 2.05, 2.42, 2.78, 3.08, 3.38, 3.65, 4.15]
anxa3_fit = [.05, .04, .0, .15, .3, .38, .48, .78, 1.15, 1.5, 1.85, 2.13, 2.33, 2.45, 2.52, 2.52, 2.5, 2.43]
anxa3_lo = [-.2, -.08, -.07, .05, .2, .3, .4, .7, 1.07, 1.42, 1.76, 2.03, 2.22, 2.33, 2.36, 2.33, 2.27, 2.15]
anxa3_hi = [.3, .15, .09, .24, .38, .46, .55, .85, 1.23, 1.6, 1.94, 2.22, 2.44, 2.57, 2.67, 2.72, 2.73, 2.72]
igfbp3_fit = [.28, .2, .16, .15, .08, .05, .03, .04, .06, .1, .15, .32, .62, 1.0, 1.42, 1.85, 2.25, 2.85]
igfbp3_lo = [-.02, .02, .05, .03, .0, -.03, -.04, -.03, -.02, .02, .05, .2, .5, .88, 1.28, 1.7, 2.05, 2.5]
igfbp3_hi = [.65, .38, .27, .28, .15, .12, .1, .1, .13, .18, .26, .45, .75, 1.15, 1.57, 2.02, 2.47, 3.25]

fig = plt.figure(figsize=(W / 100, H / 100), dpi=100, facecolor="white")


def box(left, top, right, bottom, **kw):
    # axes placed by its pixel box in the reference
    return fig.add_axes([left / W, 1 - bottom / H, (right - left) / W, (bottom - top) / H], **kw)


def classic(ax, size=11, color="black"):
    for s in ["top", "right"]:
        ax.spines[s].set_visible(False)
    for s in ["left", "bottom"]:
        ax.spines[s].set_linewidth(1.0)
    ax.tick_params(labelsize=size, labelcolor=color, length=3, width=0.9, pad=2)


def xy(points):
    return [p[0] for p in points], [p[1] for p in points]


def fill_cloud(ax, outline, color):
    # stippled edge and fine white stipple so the area reads as loose cells
    x, y = xy(outline)
    ax.fill(x, y, facecolor=color, edgecolor=color, lw=2.4, linestyle=(0, (0.6, 1.0)))
    ax.fill(x, y, facecolor="none", edgecolor="white", hatch="....", lw=0, alpha=0.6)


# A left
ax = box(292, 16, 599, 289)
classic(ax)
ax.set_xlim(-6.8, 8.1)
ax.set_ylim(-6.85, 6.8)
ax.set_xticks([-4, 0, 4, 8])
ax.set_yticks([-4, 0, 4])
fill_cloud(ax, all_cells_outline, "#D2D3D4")
for hole in all_cells_holes:
    hx, hy = xy(hole)
    ax.fill(hx, hy, color="white", lw=0)
sx, sy = xy(all_cells_sparse)
ax.scatter(sx, sy, s=3, color="#D2D3D4", lw=0)
hx, hy = xy(human_cells)
ax.scatter(hx, hy, s=12, color="#BE1E2D", lw=0, zorder=3)

# A right
ax = box(641, 16, 947, 290)
classic(ax)
ax.set_xlim(-6.86, 8.1)
ax.set_ylim(-6.9, 6.8)
ax.set_xticks([-4, 0, 4, 8])
ax.set_yticks([-4, 0, 4])
for name in ["Meso1", "Meso2", "PS", "NasAM", "Epi", "PGC", "AM2", "AM1"]:
    fill_cloud(ax, cloud_outlines[name], COL[name])
for name, pts in cloud_strays.items():
    sx, sy = xy(pts)
    ax.scatter(sx, sy, s=3.5, color=COL[name], lw=0, zorder=3)

# B dot plot
ax = box(115, 365, 616, 694)
classic(ax, size=8.3)
ax.set_xlim(-0.603, 22.65)
ax.set_ylim(694, 365)
ax.set_xticks(range(len(genes)))
ax.set_xticklabels(genes, rotation=45, ha="right", rotation_mode="anchor", style="italic", fontsize=8.8)
ax.set_yticks(row_pos)
ax.set_yticklabels(row_names, fontsize=8.6)
ax.grid(True, color="#C8C8C8", lw=0.7, linestyle=(0, (1.5, 2.5)))
ax.set_axisbelow(True)
dot_cmap = LinearSegmentedColormap.from_list("dot", ["#BEBEBE", "#00008B"])
grid_x, grid_y = np.meshgrid(range(len(genes)), row_pos)
pct = np.array(pct_expressed, dtype=float)


def pct_to_area(p):
    # legend dots: 25 -> about 6 px wide, 100 -> about 15 px wide, radius linear in percent
    d_px = 2.6 + np.asarray(p, dtype=float) * 0.127
    return (d_px * 0.72) ** 2


ax.scatter(grid_x.ravel(), grid_y.ravel(), s=pct_to_area(pct.ravel()), c=np.array(avg_expression).ravel(),
           cmap=dot_cmap, vmin=0, vmax=1, lw=0, zorder=3, clip_on=False)
for x0, y0, x1, y1 in [(-0.46, 656, 2.41, 691), (2.55, 534, 12.44, 650), (12.53, 410, 19.4, 528), (19.44, 373, 22.42, 408)]:
    ax.add_patch(Rectangle((x0, y0), x1 - x0, y1 - y0, fill=False, edgecolor="#C9283E", lw=1.2, zorder=4))

# C pies
pie_centers = [(809, 465), (944, 467), (1078, 469), (807, 615), (942, 615), (1078, 615)]
pie_r = 50.7
for (title, names, shares), (cx, cy) in zip(pies, pie_centers):
    ax = box(cx - pie_r, cy - pie_r, cx + pie_r, cy + pie_r)
    ax.pie(shares, colors=[PIE_COL[n] for n in names], startangle=90, counterclock=False, radius=1,
           wedgeprops={"linewidth": 0})
    ax.set_xlim(-1, 1)
    ax.set_ylim(-1, 1)

# D
ax = box(79, 805, 408, 1106.7)
classic(ax, size=11.5)
ax.set_xlim(-7.67, 6.43)
ax.set_ylim(-6, 3.7)
ax.set_xticks([-4, 0, 4])
ax.set_yticks([-6, -4, -2, 0, 2])
for pts, c in [(meso_cells, "#F8766D"), (ps_cells, "#7CAE00"), (epi_cells, "#00BFC4"), (am_cells, "#C77CFF")]:
    px, py = xy(pts)
    ax.scatter(px, py, s=9, color=c, lw=0, clip_on=False)

# E
expr_cmap = LinearSegmentedColormap.from_list("expr", ["#D3D3D3", "#2200FF"])
all_umap = meso_cells + ps_cells + epi_cells + am_cells
panel_left = [486.8, 671.8, 856.4, 1042]
panel_top = [807, 979]
for i, gene in enumerate(expr_genes):
    left, top = panel_left[i % 4], panel_top[i // 4]
    ax = box(left, top, left + 112, top + 152)
    ax.axis("off")
    ax.set_xlim(-7.5, 6.5)
    ax.set_ylim(-6, 3.7)
    ax.patch.set_alpha(0)
    px, py = xy(all_umap)
    ax.scatter(px, py, s=3.6, color="#D3D3D3", lw=0)
    ex, ey = xy(expr_cells[gene])
    ax.scatter(ex, ey, s=4, c=[t[2] for t in expr_cells[gene]], cmap=expr_cmap, vmin=0, vmax=1, lw=0, zorder=3)

# F
ax = box(78.7, 1172.7, 392, 1461)
classic(ax, size=10.5, color="#4D4D4D")
ax.set_xlim(-0.0665, 0.231)
ax.set_ylim(-0.1058, 0.492)
ax.set_xticks([0, 0.1, 0.2])
ax.set_xticklabels(["0.0", "0.1", "0.2"])
ax.set_yticks([-0.1, 0, 0.1, 0.2, 0.3, 0.4])
ax.set_yticklabels(["−0.1", "0.0", "0.1", "0.2", "0.3", "0.4"])
tx, ty = xy(trunk_arrow)
ax.plot(tx, ty, color="#D3D3D3", lw=4.0, solid_joinstyle="round", zorder=1)
hx, hy = xy(trunk_head)
ax.fill(hx, hy, color="#D3D3D3", lw=0, zorder=1)
bx, by = xy(branch_arrow)
ax.plot(bx, by, color="#D3D3D3", lw=4.0, linestyle=(0, (1.2, 1.2)), zorder=1)
hx, hy = xy(branch_head)
ax.fill(hx, hy, color="#D3D3D3", lw=0, zorder=1, clip_on=False)
px, py = xy(dc_am)
ax.scatter(px, py, s=22, color="#C77CFF", lw=0, zorder=2)
px, py = xy(dc_epi)
ax.scatter(px, py, s=22, color="#00BFC4", lw=0, zorder=3)

# G
g_panels = [
    ("TFAP2A", (534.5, 1225, 648, 1310.3), (-.03, .826), (-.174, .492), [0, .2, .4], tfap2a_fit, tfap2a_lo, tfap2a_hi),
    ("GATA3", (699, 1225, 812, 1310.3), (-.03, .826), (-.269, .844), [0, .3, .6], gata3_fit, gata3_lo, gata3_hi),
    ("ISL1", (863.6, 1225, 976.5, 1310.3), (-.03, .826), (-.447, 1.85), [0, .5, 1, 1.5], isl1_fit, isl1_lo, isl1_hi),
    ("MSX2", (1018.8, 1225, 1141, 1310.3), (-.027, .825), (-.516, 3.28), [0, 1, 2, 3], msx2_fit, msx2_lo, msx2_hi),
    ("TBXT", (540.9, 1375, 648, 1460.3), (-.031, .826), (-.192, .349), [-.1, 0, .1, .2, .3], tbxt_fit, tbxt_lo, tbxt_hi),
    ("GABRP", (690.7, 1375, 812, 1460.3), (-.023, .826), (-.39, 4.39), [0, 1, 2, 3, 4], gabrp_fit, gabrp_lo, gabrp_hi),
    ("ANXA3", (855, 1375, 976.5, 1460.3), (-.028, .826), (-.353, 2.884), [0, 1, 2], anxa3_fit, anxa3_lo, anxa3_hi),
    ("IGFBP3", (1018.8, 1375, 1141, 1460.3), (-.027, .825), (-.333, 3.41), [0, 1, 2, 3], igfbp3_fit, igfbp3_lo, igfbp3_hi),
]
for name, b, xl, yl, yt, fit, lo, hi in g_panels:
    ax = box(*b)
    classic(ax, size=9.5, color="#4D4D4D")
    ax.set_xlim(*xl)
    ax.set_ylim(*yl)
    ax.set_xticks([0, .2, .4, .6, .8])
    ax.set_xticklabels(["0.0", "0.2", "0.4", "0.6", "0.8"])
    ax.set_yticks(yt)
    ax.set_yticklabels([f"{v:.0f}" if max(yt) >= 2 else f"{v:.1f}".replace("-", "−") for v in yt])
    ax.fill_between(pseudotime, lo, hi, color="#FF9E9E", lw=0)
    ax.plot(pseudotime, fit, color="#7A0C0C", lw=1.1)

# overlay in reference pixel coordinates for labels and legends
ov = fig.add_axes([0, 0, 1, 1], zorder=20)
ov.set_xlim(0, W)
ov.set_ylim(H, 0)
ov.axis("off")
ov.patch.set_alpha(0)


def label(x, y, s, size=9.5, ha="center", **kw):
    ov.text(x, y, s, fontsize=size, ha=ha, va="center", **kw)


for letter, lx, ly in [("A", 253, 13), ("B", 9, 370), ("C", 726, 370), ("D", 8, 799), ("E", 452, 798), ("F", 7, 1169), ("G", 464, 1170)]:
    label(lx, ly, letter, size=22, fontweight="bold")

# A labels and legends
label(443, 321.5, "UMAP_1", 10.5)
label(792, 321.5, "UMAP_1", 10.5)
label(256, 147, "UMAP_2", 10.5, rotation=90)
label(610, 148, "UMAP_2", 10.5, rotation=90)
ov.scatter([301, 301], [24, 43], s=62, color=["#BE1E2D", "#D2D3D4"], lw=0)
label(311, 24, "Human", 10.5, ha="left", color="#222222")
label(318, 24, "Human", 10.5, ha="left", color="#222222")
label(311, 43, "synthetic", 10.5, ha="left", color="#222222")
label(316, 43, "μPASE", 10.5, ha="left", color="#222222")
legend_y_a = [160, 177, 194, 211, 228, 245, 262, 279]
legend_y_c = [522.7, 539.7, 556.7, 573.7, 591, 608, 625, 641.7]
for name, ya, yc in zip(cluster_order, legend_y_a, legend_y_c):
    ov.scatter([958], [ya], s=48, color=PIE_COL[name], lw=0)
    label(972, ya, name, 10, ha="left")
    ov.scatter([1157], [yc], s=48, color=PIE_COL[name], lw=0)
    label(1172, yc, name, 9.8, ha="left")

# B labels and legends
label(13.5, 532, "Cell cluster", 11, rotation=90)
for name, y in zip(dot_clusters, cluster_label_pos):
    label(64, y, name, 9, ha="right")
    ov.plot([69, 69], [y - 11, y + 11], color="#333333", lw=1)
cax = box(628, 509, 640, 576)
cax.imshow(np.linspace(1, 0, 128).reshape(-1, 1), cmap=dot_cmap, aspect="auto", vmin=0, vmax=1)
cax.axis("off")
label(643, 506.5, "High", 8.3, ha="left")
label(648, 575, "Low", 8.3, ha="left")
label(627, 609, "Percent", 9.3, ha="left")
label(627, 625, "expressed", 9.3, ha="left")
ov.scatter([633] * 4, [644, 659, 673, 688], s=pct_to_area(legend_pcts), color="black", lw=0)
for p, y in zip(legend_pcts, [644, 659, 673, 688]):
    label(648, y, str(p), 8.6, ha="left")

# C labels
for s, x, y in [("Epiblast", 806, 399), ("Primitive streak", 941, 400), ("Nascent mesoderm", 1078, 400),
                ("Emergent mesoderm", 809, 538), ("Amniotic/embryonic", 953, 538), ("Ectoderm", 953, 553.7), ("PGC", 1080, 541)]:
    label(x, y, s, 9.5)
for s, x, y in [("Epi", 812, 492), ("NasAM", 767, 436), ("AM1", 797, 429), ("Epi", 963, 445), ("AM1", 927, 433), ("NasAM", 913, 463),
                ("PS", 962, 486), ("Meso1", 921, 498), ("Meso2", 1052, 456), ("Meso1", 1097, 490), ("Meso2", 807, 635),
                ("AM2", 941, 635), ("PGC", 1080, 635)]:
    label(x, y, s, 7.5)

# D labels
label(246, 1136, "UMAP_1", 11.4)
label(42, 953, "UMAP_2", 11.4, rotation=90)
for s, x, y in [("Meso", 146.7, 867.7), ("PS", 278, 930), ("Epi", 365, 941), ("AM", 335.7, 1043), ("PGC", 216, 1041.7)]:
    label(x, y, s, 11.8)
ov.plot([235, 269.3], [1045, 1058.3], color="black", lw=0.9)
ov.add_patch(Circle((281.7, 1066), 12, fill=False, edgecolor="black", lw=1.1, linestyle=(0, (1, 1.2))))

# E labels
for s, x, y in [("SOX2", 582, 807), ("TBXT", 770, 807), ("MESP1", 961, 807), ("CLDN10", 1143.5, 807), ("ISL1", 583, 984),
                ("TFAP2A", 783, 984), ("SOX17", 966, 984), ("NANOS3", 1150, 984)]:
    label(x, y, s, 9.3, style="italic")
cax = box(1181, 1051.7, 1190, 1119)
cax.imshow(np.linspace(1, 0, 128).reshape(-1, 1), cmap=expr_cmap, aspect="auto", vmin=0, vmax=1)
cax.axis("off")
label(1193, 1057, "High", 9.5, ha="left")
label(1193, 1116, "Low", 9.5, ha="left")

# F labels
label(243, 1491, "DC1", 10.5)
label(37, 1311, "DC2", 10.5, rotation=90)
label(227, 1248.7, "PGC", 13)
label(102, 1437, "Epi", 13)
label(250, 1434, "AM", 13)
ov.add_patch(Ellipse((175, 1250), 41, 182, angle=4.3, fill=False, edgecolor="black", lw=1.0, linestyle=(0, (1, 1.2))))

# G labels
for s, x, y in [("TFAP2A", 586, 1209), ("GATA3", 756, 1209), ("ISL1", 919.5, 1209), ("MSX2", 1081.6, 1209), ("TBXT", 593.4, 1362),
                ("GABRP", 760, 1362), ("ANXA3", 925.4, 1362), ("IGFBP3", 1085, 1362)]:
    label(x, y, s, 9.5, style="italic")
label(490, 1343, "Expression level", 11, rotation=90)
label(831.6, 1491.7, "pseudotime", 11)

fig.savefig("out.png", dpi=100)
